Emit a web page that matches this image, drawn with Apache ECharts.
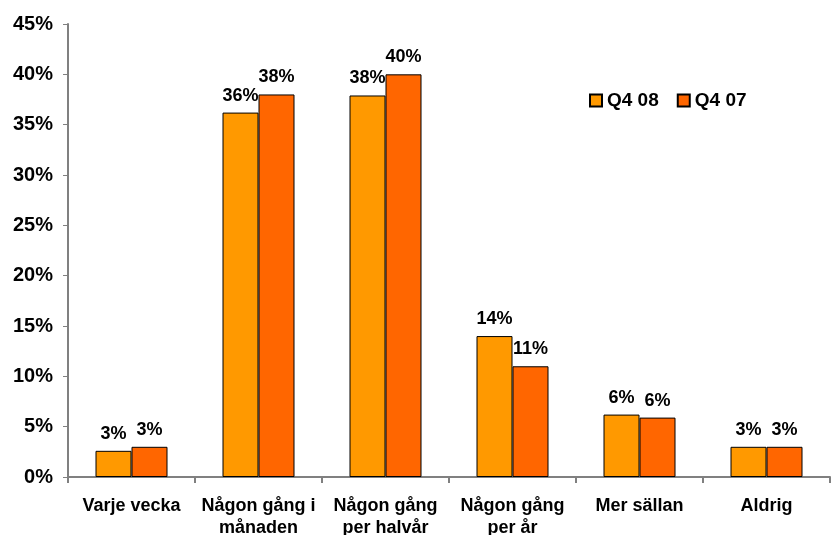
<!DOCTYPE html>
<html>
<head>
<meta charset="utf-8">
<script src="https://cdn.jsdelivr.net/npm/echarts@6/dist/echarts.min.js"></script>
<style>
html, body { margin: 0; padding: 0; background: #fff; }
#container { width: 836px; height: 535px; }
</style>
</head>
<body>
<div id="container"></div>
<script>
var categories = ['Varje vecka', 'Någon gång i\nmånaden', 'Någon gång\nper halvår', 'Någon gång\nper år', 'Mer sällan', 'Aldrig'];
var q408 = [2.6, 36.2, 37.9, 14.0, 6.2, 3.0];
var q407 = [3.0, 38.0, 40.0, 11.0, 5.9, 3.0];
var seriesNames = ['Q4 08', 'Q4 07'];

var myChart = echarts.init(document.getElementById('container'));

var labelStyle = {
    show: true,
    position: 'top',
    distance: 8,
    color: '#000',
    fontFamily: 'Liberation Sans',
    fontWeight: 'bold',
    fontSize: 18,
    formatter: function (p) { return Math.round(p.value) + '%'; }
};

var option = {
    animation: false,
    backgroundColor: '#fff',
    textStyle: { fontFamily: 'Liberation Sans' },
    legend: {
        left: 584,
        top: 86,
        icon: 'rect',
        itemWidth: 12,
        itemHeight: 12,
        itemGap: 18,
        textStyle: { color: '#000', fontWeight: 'bold', fontSize: 19, fontFamily: 'Liberation Sans' },
        data: seriesNames
    },
    grid: { left: 68, right: 6, top: 24, bottom: 58, outerBoundsMode: 'none', containLabel: false },
    xAxis: {
        type: 'category',
        data: categories,
        axisLine: { lineStyle: { color: '#808080', width: 2 } },
        axisTick: { show: true, length: 6, lineStyle: { color: '#808080', width: 2 } },
        axisLabel: {
            color: '#000', fontWeight: 'bold', fontSize: 18, margin: 18,
            lineHeight: 22, interval: 0, fontFamily: 'Liberation Sans'
        }
    },
    yAxis: {
        type: 'value',
        min: 0,
        max: 45,
        interval: 5,
        splitLine: { show: false },
        axisLine: { show: true, lineStyle: { color: '#808080', width: 2 } },
        axisTick: { show: true, length: 5, lineStyle: { color: '#808080', width: 1 } },
        axisLabel: {
            color: '#000', fontWeight: 'bold', fontSize: 20, margin: 15,
            formatter: '{value}%', fontFamily: 'Liberation Sans'
        }
    },
    series: [
        {
            name: seriesNames[0],
            type: 'bar',
            data: q408,
            barWidth: 36,
            barGap: '0%',
            itemStyle: { color: '#FF9900', borderColor: '#000', borderWidth: 1 },
            label: labelStyle
        },
        {
            name: seriesNames[1],
            type: 'bar',
            data: q407,
            barWidth: 36,
            itemStyle: { color: '#FF6600', borderColor: '#000', borderWidth: 1 },
            label: labelStyle
        }
    ]
};

myChart.setOption(option);
window.onresize = function () { myChart.resize(); };
</script>
</body>
</html>
